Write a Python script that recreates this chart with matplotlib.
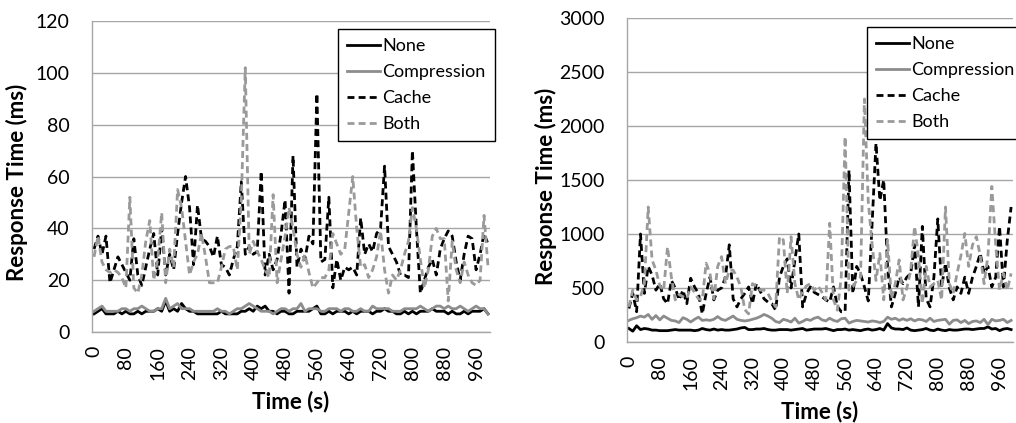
import matplotlib
matplotlib.use("Agg")
import matplotlib.pyplot as plt

plt.rcParams["font.family"] = ["Lato", "DejaVu Sans"]

# sample times (s), one sample every 10 s
time_s = list(range(0, 1000, 10))
tick_times = list(range(0, 1000, 80))

# ---- left panel (ms) ----
left_none = [7, 8, 9, 7, 7, 7, 8, 7, 8, 7, 7, 8, 7, 8, 8, 8, 9, 8, 12, 8,
             9, 8, 11, 9, 8, 8, 7, 7, 7, 7, 7, 7, 8, 7, 7, 7, 7, 8, 8, 9,
             8, 10, 9, 10, 8, 8, 7, 8, 8, 7, 7, 8, 8, 8, 8, 9, 10, 7, 7, 8,
             7, 8, 8, 8, 7, 8, 7, 8, 8, 8, 7, 8, 8, 9, 8, 8, 7, 7, 8, 7,
             8, 7, 8, 8, 8, 9, 8, 8, 8, 7, 8, 7, 7, 8, 7, 8, 8, 8, 9, 7]
left_compression = [8, 9, 10, 8, 8, 8, 8, 9, 9, 8, 9, 9, 10, 9, 8, 8, 9, 9, 13, 9,
                    10, 11, 9, 9, 9, 8, 8, 8, 8, 8, 8, 9, 8, 8, 7, 8, 9, 9, 10, 11,
                    10, 9, 8, 8, 8, 7, 8, 9, 9, 8, 9, 9, 11, 8, 9, 9, 9, 8, 8, 9,
                    9, 9, 8, 9, 9, 8, 8, 9, 8, 8, 10, 9, 9, 9, 9, 8, 8, 8, 9, 9,
                    9, 9, 10, 9, 8, 9, 10, 10, 9, 10, 9, 9, 10, 9, 8, 9, 10, 9, 9, 7]
left_cache = [32, 37, 30, 37, 19, 24, 29, 26, 23, 20, 36, 22, 18, 25, 32, 38, 22, 40, 22, 30,
              24, 38, 50, 60, 48, 26, 49, 36, 35, 33, 29, 37, 26, 25, 22, 28, 33, 58, 30, 33,
              30, 31, 62, 22, 30, 24, 28, 38, 51, 15, 68, 25, 32, 28, 37, 34, 92, 27, 28, 52,
              17, 28, 20, 25, 24, 25, 22, 44, 30, 34, 31, 38, 40, 64, 33, 30, 27, 22, 22, 21,
              70, 40, 15, 20, 25, 28, 22, 32, 36, 39, 37, 27, 20, 30, 37, 36, 24, 30, 38, 34]
left_both = [29, 37, 27, 24, 23, 24, 23, 21, 17, 52, 17, 15, 22, 35, 43, 20, 28, 46, 19, 32,
             25, 55, 48, 35, 22, 27, 30, 38, 29, 19, 19, 19, 25, 32, 33, 33, 24, 51, 102, 30,
             35, 31, 28, 24, 21, 53, 19, 28, 37, 48, 40, 30, 25, 30, 23, 17, 19, 21, 21, 24,
             38, 34, 30, 32, 46, 60, 40, 25, 26, 21, 24, 29, 39, 24, 15, 22, 20, 24, 30, 35,
             48, 40, 28, 17, 24, 37, 40, 36, 36, 12, 35, 24, 19, 27, 22, 19, 18, 20, 45, 25]

# ---- right panel (ms) ----
right_none = [125, 100, 150, 115, 125, 120, 110, 110, 105, 105, 105, 110, 115, 110, 110, 110, 110, 105, 110, 125,
              115, 110, 120, 110, 115, 110, 110, 115, 120, 130, 135, 115, 115, 120, 120, 125, 115, 110, 110, 115,
              115, 115, 110, 115, 120, 125, 110, 115, 120, 120, 120, 125, 115, 105, 115, 115, 120, 110, 115, 110,
              105, 115, 120, 110, 115, 125, 110, 170, 130, 120, 120, 115, 130, 110, 105, 110, 115, 125, 110, 105,
              120, 110, 105, 115, 110, 110, 115, 120, 120, 115, 120, 125, 125, 140, 120, 125, 105, 120, 125, 115]
right_compression = [200, 215, 225, 240, 230, 255, 210, 245, 205, 240, 220, 200, 195, 180, 225, 210, 185, 210, 230, 200,
                     205, 200, 210, 235, 210, 200, 220, 240, 210, 200, 195, 200, 210, 220, 235, 255, 240, 220, 190, 180,
                     210, 200, 185, 220, 175, 190, 210, 200, 220, 230, 205, 195, 220, 200, 190, 215, 220, 175, 190, 200,
                     195, 190, 185, 195, 190, 180, 190, 230, 210, 220, 200, 215, 200, 215, 195, 210, 205, 190, 220, 190,
                     200, 205, 210, 165, 200, 205, 180, 200, 170, 190, 195, 180, 210, 160, 210, 195, 200, 210, 180, 200]
right_cache = [310, 450, 280, 1000, 450, 700, 620, 480, 540, 400, 355, 570, 500, 390, 480, 355, 590, 510, 450, 260,
               450, 600, 390, 480, 500, 600, 900, 400, 325, 400, 450, 510, 355, 540, 470, 400, 370, 355, 295, 600,
               700, 770, 500, 760, 1000, 325, 450, 510, 460, 440, 420, 390, 370, 510, 330, 280, 280, 1590, 450, 700,
               630, 510, 380, 1100, 1840, 1310, 1500, 700, 325, 450, 600, 540, 600, 635, 900, 325, 1070, 400, 325, 600,
               1140, 510, 730, 500, 390, 510, 450, 600, 450, 600, 700, 820, 635, 700, 510, 600, 1070, 510, 940, 1250]
right_both = [325, 480, 390, 420, 540, 1250, 760, 665, 520, 480, 880, 600, 390, 440, 420, 400, 510, 460, 400, 390,
              730, 635, 400, 700, 790, 540, 665, 665, 600, 510, 300, 260, 540, 520, 480, 480, 450, 380, 325, 975,
              945, 450, 975, 540, 390, 470, 520, 540, 480, 520, 460, 390, 1100, 390, 295, 600, 1900, 480, 510, 570,
              600, 2250, 1300, 900, 570, 820, 390, 945, 400, 540, 760, 390, 500, 665, 1070, 790, 355, 700, 510, 540,
              570, 390, 1250, 540, 450, 635, 800, 1005, 700, 900, 975, 800, 540, 800, 1440, 900, 480, 635, 480, 635]

series_names = ["None", "Compression", "Cache", "Both"]
series_styles = [
    dict(color="black", linestyle="-"),
    dict(color="#8c8c8c", linestyle="-"),
    dict(color="black", linestyle=(0, (2.5, 1.5))),
    dict(color="#9a9a9a", linestyle=(0, (2.5, 1.5))),
]

fig = plt.figure(figsize=(10.16, 4.23), dpi=100)
ax1 = fig.add_axes([0.0906, 0.2151, 0.3917, 0.7352])
ax2 = fig.add_axes([0.6171, 0.1915, 0.3800, 0.7660])


def draw_panel(ax, data, ymax, ystep, legend_x, legend_y, ylab_x, xlab_y):
    for vals, name, st in zip(data, series_names, series_styles):
        ax.plot(time_s, vals, label=name, linewidth=2.0, **st)
    ax.set_xlim(-5, 995)
    ax.set_ylim(0, ymax)
    ax.set_yticks(range(0, ymax + 1, ystep))
    ax.set_xticks(tick_times)
    ax.set_xticklabels([str(t) for t in tick_times], rotation=90)
    ax.yaxis.grid(True, color="#a6a6a6", linewidth=1.0)
    ax.set_axisbelow(True)
    for s in ["top", "right"]:
        ax.spines[s].set_visible(False)
    for s in ["left", "bottom"]:
        ax.spines[s].set_color("#a6a6a6")
        ax.spines[s].set_linewidth(1.0)
    ax.tick_params(axis="y", length=0, pad=16, labelsize=14)
    ax.tick_params(axis="x", length=0, pad=10, labelsize=14)
    ax.set_xlabel("Time (s)", fontsize=16, fontweight="bold")
    ax.set_ylabel("Response Time (ms)", fontsize=16, fontweight="bold")
    ax.yaxis.set_label_coords(ylab_x, 0.48)
    ax.xaxis.set_label_coords(0.5, xlab_y)
    leg = ax.legend(loc="upper left", bbox_to_anchor=(legend_x, legend_y),
                    fontsize=13, frameon=True, fancybox=False, framealpha=1,
                    edgecolor="black", handlelength=1.8, handletextpad=0.15,
                    labelspacing=0.55, borderpad=0.5, borderaxespad=0)
    leg.get_frame().set_linewidth(1.0)


draw_panel(ax1, [left_none, left_compression, left_cache, left_both],
           120, 20, 0.618, 0.974, -0.16, -0.19)
draw_panel(ax2, [right_none, right_compression, right_cache, right_both],
           3000, 500, 0.622, 0.972, -0.18, -0.18)

fig.savefig("out.png", dpi=100)
